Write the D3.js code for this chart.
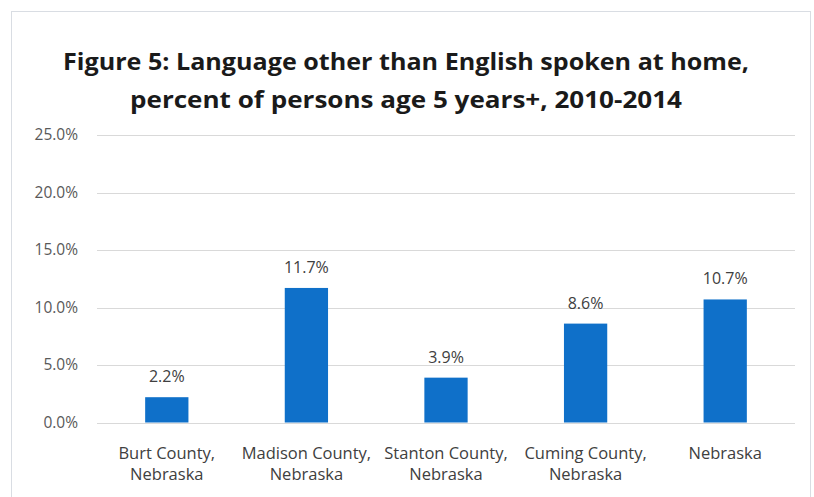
<!DOCTYPE html>
<html>
<head>
<meta charset="utf-8">
<script src="https://cdn.jsdelivr.net/npm/d3@7"></script>
<style>
  html, body { margin: 0; padding: 0; background: #fff; }
  svg { display: block; }
</style>
</head>
<body>
<div id="chart"></div>
<script>
// Chart data
const categories = [
  ["Burt County,", "Nebraska"],
  ["Madison County,", "Nebraska"],
  ["Stanton County,", "Nebraska"],
  ["Cuming County,", "Nebraska"],
  ["Nebraska"]
];
const values = [2.2, 11.7, 3.9, 8.6, 10.7];
const yTicks = [0, 5, 10, 15, 20, 25];
const titleLines = [
  "Figure 5: Language other than English spoken at home,",
  "percent of persons age 5 years+, 2010-2014"
];

const W = 814, H = 497;
const margin = { left: 97, right: 19, top: 135, bottom: 74 };
const font = "'Open Sans', 'Noto Sans', sans-serif";

const svg = d3.select("#chart").append("svg")
  .attr("width", W).attr("height", H);

// Chart area frame
svg.append("rect")
  .attr("x", 11.5).attr("y", 11.5)
  .attr("width", W - 15).attr("height", H)
  .attr("fill", "#fff")
  .attr("stroke", "#d9dde3").attr("stroke-width", 1);

const x = d3.scaleBand()
  .domain(d3.range(values.length))
  .range([margin.left, W - margin.right])
  .paddingInner(0.69).paddingOuter(0.345);

const y = d3.scaleLinear()
  .domain([0, 25])
  .range([H - margin.bottom - 0.5, margin.top]);

// Gridlines
svg.append("g")
  .selectAll("line")
  .data(yTicks)
  .join("line")
  .attr("x1", margin.left).attr("x2", W - margin.right)
  .attr("y1", d => Math.round(y(d)) + 0.5)
  .attr("y2", d => Math.round(y(d)) + 0.5)
  .attr("stroke", "#d9d9d9").attr("stroke-width", 1);

// Y axis labels
const yAxis = d3.axisLeft(y)
  .tickValues(yTicks)
  .tickFormat(d => d.toFixed(1) + "%")
  .tickSize(0).tickPadding(19);
const yg = svg.append("g")
  .attr("transform", `translate(${margin.left},0)`)
  .call(yAxis);
yg.select(".domain").remove();
yg.selectAll("text")
  .attr("font-family", font)
  .attr("font-size", 15.5)
  .attr("fill", "#595959");

// Bars
svg.append("g")
  .selectAll("rect")
  .data(values)
  .join("rect")
  .attr("x", (d, i) => x(i))
  .attr("width", x.bandwidth())
  .attr("y", d => y(d))
  .attr("height", d => y(0) - y(d))
  .attr("fill", "#0f70c9");

// Value labels
svg.append("g")
  .selectAll("text")
  .data(values)
  .join("text")
  .attr("x", (d, i) => x(i) + x.bandwidth() / 2)
  .attr("y", d => y(d) - 15)
  .attr("text-anchor", "middle")
  .attr("font-family", font)
  .attr("font-size", 16)
  .attr("fill", "#404040")
  .text(d => d.toFixed(1) + "%");

// Category labels
const xg = svg.append("g")
  .selectAll("text")
  .data(categories)
  .join("text")
  .attr("x", (d, i) => x(i) + x.bandwidth() / 2)
  .attr("y", 459)
  .attr("text-anchor", "middle")
  .attr("font-family", font)
  .attr("font-size", 16.5)
  .attr("fill", "#404040");
xg.selectAll("tspan")
  .data(d => d)
  .join("tspan")
  .attr("x", function () { return d3.select(this.parentNode).attr("x"); })
  .attr("dy", (d, i) => i === 0 ? 0 : 21)
  .text(d => d);

// Title
const titleWidths = [686, 552];
svg.append("g")
  .selectAll("text")
  .data(titleLines)
  .join("text")
  .attr("x", 406)
  .attr("y", (d, i) => 70 + i * 38)
  .attr("text-anchor", "middle")
  .attr("font-family", font)
  .attr("font-weight", "bold")
  .attr("font-size", 23)
  .attr("fill", "#1a1a1a")
  .attr("textLength", (d, i) => titleWidths[i])
  .attr("lengthAdjust", "spacingAndGlyphs")
  .text(d => d);
</script>
</body>
</html>
